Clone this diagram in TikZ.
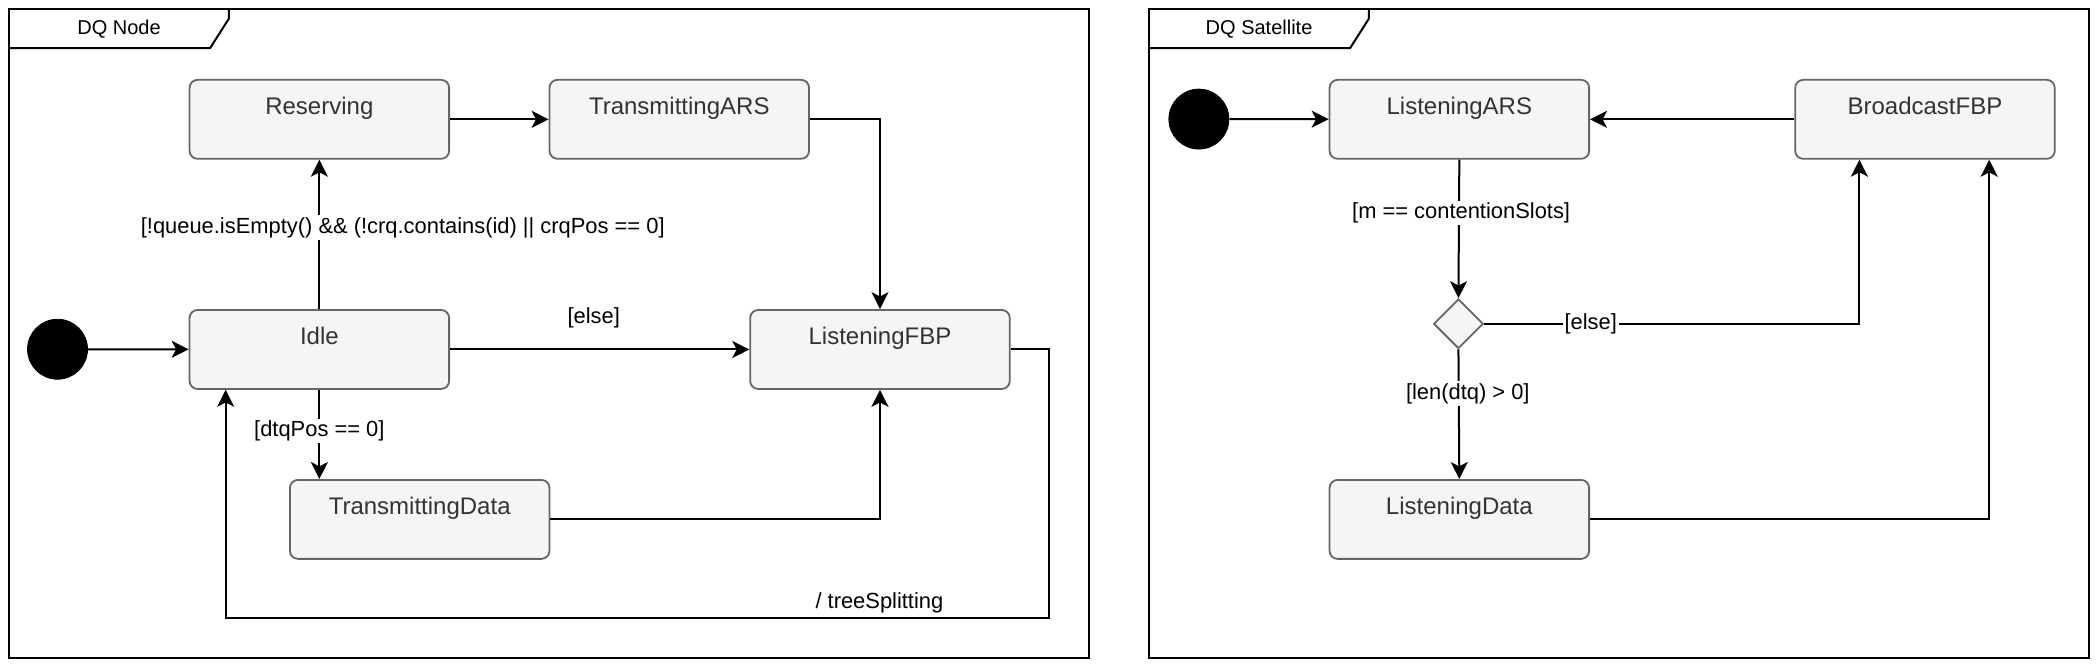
\documentclass[tikz,border=0pt]{standalone}
\usepackage{fontspec}
\setmainfont{Liberation Sans}
\usetikzlibrary{arrows.meta,shapes.geometric}
\definecolor{boxfill}{HTML}{F5F5F5}
\definecolor{boxdraw}{HTML}{666666}
\definecolor{boxtext}{HTML}{333333}
\begin{document}
\begin{tikzpicture}[x=0.669pt,y=-0.669pt,
  statebox/.style={draw=boxdraw,fill=boxfill,line width=0.9pt,rounded corners=4pt,
    minimum width=194*0.669pt,minimum height=59*0.669pt,inner sep=0pt,anchor=north west},
  stlabel/.style={font=\fontsize{12}{14}\selectfont,text=boxtext,anchor=base,inner sep=0pt,yshift=-17.7pt},
  initstate/.style={circle,fill=black,draw=black,minimum size=30pt,inner sep=0pt},
  decision/.style={diamond,draw=boxdraw,fill=boxfill,line width=0.9pt,minimum width=37*0.669pt,minimum height=37*0.669pt,inner sep=0pt},
  conn/.style={line width=1pt,-{Stealth[length=8.5pt,width=8.5pt,inset=2.2pt]}},
  elabel/.style={font=\fontsize{10.95}{12}\selectfont,fill=white,inner sep=1pt},
  nlabel/.style={font=\fontsize{10.95}{12}\selectfont,inner sep=1pt},
  frame/.style={draw=black,line width=1pt},
  ftitle/.style={font=\fontsize{10}{12}\selectfont,inner sep=0pt}
]
\useasboundingbox (0,0) rectangle (1568,499);
% ---------- left frame ----------
\draw[frame] (7,7) rectangle (814,492);
\draw[frame] (7,36) -- (157,36) -- (171,14) -- (171,7);
\node[ftitle] (t1) at (89,22) {DQ Node};
% states
\node[statebox,label={[stlabel]north:Reserving}] (res) at (141,59) {};
\node[statebox,label={[stlabel]north:TransmittingARS}] (tars) at (410,59) {};
\node[statebox,label={[stlabel]north:Idle}] (idle) at (141,231) {};
\node[statebox,label={[stlabel]north:ListeningFBP}] (lfbp) at (560,231) {};
\node[statebox,label={[stlabel]north:TransmittingData}] (tdata) at (216,358) {};
\node[initstate] (i1) at (43,261) {};
\coordinate (c1) at (784,462);
% edges
\draw[conn] (i1) -- (idle);
\draw[conn] (res) -- (tars);
\draw[conn] (idle) -- (res);
\node[elabel] (l1) at (301,170) {[!queue.isEmpty() \&\& (!crq.contains(id) || crqPos == 0]};
\draw[conn] (tars.east) -| (lfbp.north);
\draw[conn] (idle) -- node[nlabel,pos=0.48,above=9pt] {[else]} (lfbp);
\draw[conn] (idle.south) -- node[elabel,pos=0.46] {[dtqPos == 0]} (idle.south |- tdata.north);
\draw[conn] (tdata.east) -| (lfbp.south);
\draw[conn] (lfbp.east) -| (c1) -| node[nlabel,pos=0.103,above=1pt] {/ treeSplitting} ([xshift=-70*0.669pt]idle.south);
% ---------- right frame ----------
\draw[frame] (859,7) rectangle (1561,492);
\draw[frame] (859,36) -- (1009,36) -- (1023,14) -- (1023,7);
\node[ftitle] (t2) at (941,22) {DQ Satellite};
\node[statebox,label={[stlabel]north:ListeningARS}] (lars) at (993,59) {};
\node[statebox,label={[stlabel]north:BroadcastFBP}] (bfbp) at (1341,59) {};
\node[statebox,label={[stlabel]north:ListeningData}] (ldata) at (993,358) {};
\node[initstate] (i2) at (896,89) {};
\node[decision] (dec) at (1090,242) {};
\draw[conn] (i2) -- (lars);
\draw[conn] (bfbp) -- (lars);
\draw[conn] (lars.south) -- (dec.north);
\node[elabel] (l2) at (1092,159) {[m == contentionSlots]};
\draw[conn] (dec.east) -| node[elabel,pos=0.142] {[else]} ([xshift=-49*0.669pt]bfbp.south);
\draw[conn] (dec.south) -- (ldata.north);
\node[elabel] (l3) at (1097,294) {[len(dtq) > 0]};
\draw[conn] (ldata.east) -| ([xshift=48*0.669pt]bfbp.south);
\end{tikzpicture}
\end{document}
